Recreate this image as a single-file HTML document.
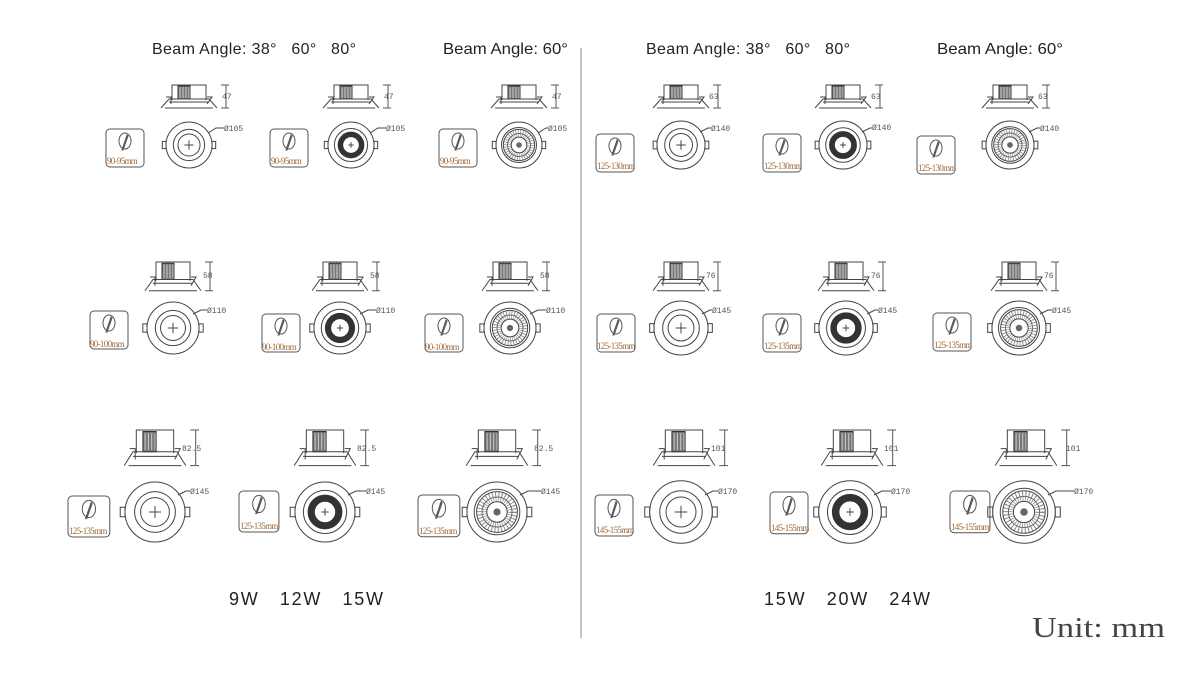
<!DOCTYPE html>
<html><head><meta charset="utf-8"><style>
html,body{margin:0;padding:0;background:#fff}
svg{display:block}
text{white-space:pre}
.t{font-family:"Liberation Sans",sans-serif;font-size:16px;fill:#222}
.d{font-family:"Liberation Mono",monospace;font-size:8px;fill:#555}
.l{font-family:"Liberation Serif",serif;font-size:9px;fill:#a06a3a;letter-spacing:-0.7px}
.n{vector-effect:non-scaling-stroke}
</style></head><body>
<svg width="1179" height="682" viewBox="0 0 1179 682" xmlns="http://www.w3.org/2000/svg" xml:space="preserve">
<defs>
<g id="side" fill="none" stroke="#444">
 <path class="n" d="M13 15 V0 H47 V15"/>
 <rect class="n" x="19" y="1" width="12" height="13" fill="#777" stroke="#333"/>
 <path class="n" d="M21 2 V13 M24 2 V13 M27 2 V13 M30 2 V13" stroke="#ccc"/>
 <path class="n" d="M2 23 L10 14 H50 L58 23"/>
 <path class="n" d="M10 17 H50 M6 23 H54"/>
 <path class="n" d="M7 12 L12 12 L12 19 M48 12 L53 12 L48 19" />
 <path class="n" d="M67 0 V23 M62 0 H70 M62 23 H70" stroke="#555"/>
</g>
<g id="tabs" fill="#fff" stroke="#444">
 <rect class="n" x="-29" y="-4" width="4" height="8"/>
 <rect class="n" x="25" y="-4" width="4" height="8"/>
</g>
<g id="fA" fill="none" stroke="#444">
 <use href="#tabs"/>
 <circle class="n" r="25" fill="#fff"/>
 <circle class="n" r="17"/>
 <circle class="n" r="12"/>
 <path class="n" d="M-5 0 H5 M0 -5 V5"/>
</g>
<g id="fB" fill="none" stroke="#444">
 <use href="#tabs"/>
 <circle class="n" r="25" fill="#fff"/>
 <circle class="n" r="18"/>
 <circle r="11.5" stroke="#333" stroke-width="6"/>
 <path class="n" d="M-3 0 H3 M0 -3 V3"/>
</g>
<g id="fC" fill="none" stroke="#444">
 <use href="#tabs"/>
 <circle class="n" r="25" fill="#fff"/>
 <circle class="n" r="19"/>
 <circle class="n" r="17"/>
 <circle r="12.5" stroke="#888" stroke-width="8" stroke-dasharray="0.7 1.6"/>
 <circle class="n" r="12.5" stroke="#666"/>
 <circle class="n" r="8.5"/>
 <circle r="3" fill="#666" stroke="none"/>
</g>
<g id="box" fill="none" stroke="#555">
 <rect class="n" x="0" y="0" width="38" height="38" rx="4"/>
 <ellipse class="n" cx="19" cy="12" rx="6" ry="8"/>
 <path class="n" d="M16 21 L21 6 L22 7 L17 21 Z" fill="#777"/>
</g>
</defs>

<text class="t" x="152" y="54" textLength="204" lengthAdjust="spacing">Beam Angle: 38°   60°   80°</text>
<text class="t" x="443" y="54" textLength="125" lengthAdjust="spacingAndGlyphs">Beam Angle: 60°</text>
<text class="t" x="646" y="54" textLength="204" lengthAdjust="spacing">Beam Angle: 38°   60°   80°</text>
<text class="t" x="937" y="54" textLength="126" lengthAdjust="spacingAndGlyphs">Beam Angle: 60°</text>
<line x1="581" y1="48" x2="581" y2="638" stroke="#888" stroke-width="1"/>

<text class="t" x="229" y="605" textLength="154" lengthAdjust="spacing" style="font-size:18px">9W   12W   15W</text>
<text class="t" x="764" y="605" textLength="166" lengthAdjust="spacing" style="font-size:18px">15W   20W   24W</text>
<text x="1032" y="637" textLength="133" lengthAdjust="spacingAndGlyphs" style="font-family:'Liberation Serif',serif;font-size:28px;fill:#444">Unit: mm</text>

<!-- ROW 1 LEFT -->
<g transform="translate(159,85)"><use href="#side"/></g><text class="d" x="222" y="99">47</text>
<g transform="translate(321,85)"><use href="#side"/></g><text class="d" x="384" y="99">47</text>
<g transform="translate(489,85)"><use href="#side"/></g><text class="d" x="552" y="99">47</text>
<use href="#fA" transform="translate(189,145) scale(0.92)"/>
<use href="#fB" transform="translate(351,145) scale(0.92)"/>
<use href="#fC" transform="translate(519,145) scale(0.92)"/>
<path d="M208 133 L216 128 H224" fill="none" stroke="#444"/><text class="d" x="224" y="131">Ø105</text>
<path d="M370 133 L378 128 H386" fill="none" stroke="#444"/><text class="d" x="386" y="131">Ø105</text>
<path d="M538 133 L546 128 H548" fill="none" stroke="#444"/><text class="d" x="548" y="131">Ø105</text>
<use href="#box" x="106" y="129"/><text class="l" x="107" y="164">90-95mm</text>
<use href="#box" x="270" y="129"/><text class="l" x="271" y="164">90-95mm</text>
<use href="#box" x="439" y="129"/><text class="l" x="440" y="164">90-95mm</text>

<!-- ROW 1 RIGHT -->
<g transform="translate(651,85)"><use href="#side"/></g><text class="d" x="709" y="99">63</text>
<g transform="translate(813,85)"><use href="#side"/></g><text class="d" x="871" y="99">63</text>
<g transform="translate(980,85)"><use href="#side"/></g><text class="d" x="1038" y="99">63</text>
<use href="#fA" transform="translate(681,145) scale(0.96)"/>
<use href="#fB" transform="translate(843,145) scale(0.96)"/>
<use href="#fC" transform="translate(1010,145) scale(0.96)"/>
<path d="M700 132 L708 128 H711" fill="none" stroke="#444"/><text class="d" x="711" y="131">Ø140</text>
<path d="M862 132 L870 128 H872" fill="none" stroke="#444"/><text class="d" x="872" y="130">Ø140</text>
<path d="M1029 132 L1037 128 H1040" fill="none" stroke="#444"/><text class="d" x="1040" y="131">Ø140</text>
<use href="#box" x="596" y="134"/><text class="l" x="597" y="169">125-130mm</text>
<use href="#box" x="763" y="134"/><text class="l" x="764" y="169">125-130mm</text>
<use href="#box" x="917" y="136"/><text class="l" x="918" y="171">125-130mm</text>

<!-- ROW 2 LEFT -->
<g transform="translate(143,262) scale(1,1.25)"><use href="#side"/></g><text class="d" x="203" y="278">58</text>
<g transform="translate(310,262) scale(1,1.25)"><use href="#side"/></g><text class="d" x="370" y="278">58</text>
<g transform="translate(480,262) scale(1,1.25)"><use href="#side"/></g><text class="d" x="540" y="278">58</text>
<use href="#fA" transform="translate(173,328) scale(1.04)"/>
<use href="#fB" transform="translate(340,328) scale(1.04)"/>
<use href="#fC" transform="translate(510,328) scale(1.04)"/>
<path d="M193 314 L201 310 H207" fill="none" stroke="#444"/><text class="d" x="207" y="313">Ø110</text>
<path d="M360 314 L368 310 H376" fill="none" stroke="#444"/><text class="d" x="376" y="313">Ø110</text>
<path d="M530 314 L538 310 H546" fill="none" stroke="#444"/><text class="d" x="546" y="313">Ø110</text>
<use href="#box" x="90" y="311"/><text class="l" x="90" y="347">90-100mm</text>
<use href="#box" x="262" y="314"/><text class="l" x="262" y="350">90-100mm</text>
<use href="#box" x="425" y="314"/><text class="l" x="425" y="350">90-100mm</text>

<!-- ROW 2 RIGHT -->
<g transform="translate(651,262) scale(1,1.25)"><use href="#side"/></g><text class="d" x="706" y="278">76</text>
<g transform="translate(816,262) scale(1,1.25)"><use href="#side"/></g><text class="d" x="871" y="278">76</text>
<g transform="translate(989,262) scale(1,1.25)"><use href="#side"/></g><text class="d" x="1044" y="278">76</text>
<use href="#fA" transform="translate(681,328) scale(1.08)"/>
<use href="#fB" transform="translate(846,328) scale(1.08)"/>
<use href="#fC" transform="translate(1019,328) scale(1.08)"/>
<path d="M702 314 L710 310 H712" fill="none" stroke="#444"/><text class="d" x="712" y="313">Ø145</text>
<path d="M867 314 L875 310 H878" fill="none" stroke="#444"/><text class="d" x="878" y="313">Ø145</text>
<path d="M1040 314 L1048 310 H1052" fill="none" stroke="#444"/><text class="d" x="1052" y="313">Ø145</text>
<use href="#box" x="597" y="314"/><text class="l" x="597" y="349">125-135mm</text>
<use href="#box" x="763" y="314"/><text class="l" x="764" y="349">125-135mm</text>
<use href="#box" x="933" y="313"/><text class="l" x="934" y="348">125-135mm</text>

<!-- ROW 3 LEFT -->
<g transform="translate(122,430) scale(1.1,1.55)"><use href="#side"/></g><text class="d" x="182" y="451">82.5</text>
<g transform="translate(292,430) scale(1.1,1.55)"><use href="#side"/></g><text class="d" x="357" y="451">82.5</text>
<g transform="translate(464,430) scale(1.1,1.55)"><use href="#side"/></g><text class="d" x="534" y="451">82.5</text>
<use href="#fA" transform="translate(155,512) scale(1.2)"/>
<use href="#fB" transform="translate(325,512) scale(1.2)"/>
<use href="#fC" transform="translate(497,512) scale(1.2)"/>
<path d="M178 495 L186 491 H190" fill="none" stroke="#444"/><text class="d" x="190" y="494">Ø145</text>
<path d="M348 495 L356 491 H366" fill="none" stroke="#444"/><text class="d" x="366" y="494">Ø145</text>
<path d="M520 495 L528 491 H541" fill="none" stroke="#444"/><text class="d" x="541" y="494">Ø145</text>
<use href="#box" transform="translate(68,496) scale(1.1,1.08)"/><text class="l" x="69" y="534">125-135mm</text>
<use href="#box" transform="translate(239,491) scale(1.05,1.08)"/><text class="l" x="240" y="529">125-135mm</text>
<use href="#box" transform="translate(418,495) scale(1.1,1.1)"/><text class="l" x="419" y="534">125-135mm</text>

<!-- ROW 3 RIGHT -->
<g transform="translate(651,430) scale(1.1,1.55)"><use href="#side"/></g><text class="d" x="711" y="451">101</text>
<g transform="translate(819,430) scale(1.1,1.55)"><use href="#side"/></g><text class="d" x="884" y="451">101</text>
<g transform="translate(993,430) scale(1.1,1.55)"><use href="#side"/></g><text class="d" x="1066" y="451">101</text>
<use href="#fA" transform="translate(681,512) scale(1.25)"/>
<use href="#fB" transform="translate(850,512) scale(1.25)"/>
<use href="#fC" transform="translate(1024,512) scale(1.25)"/>
<path d="M705 495 L713 491 H718" fill="none" stroke="#444"/><text class="d" x="718" y="494">Ø170</text>
<path d="M874 495 L882 491 H891" fill="none" stroke="#444"/><text class="d" x="891" y="494">Ø170</text>
<path d="M1048 495 L1056 491 H1074" fill="none" stroke="#444"/><text class="d" x="1074" y="494">Ø170</text>
<use href="#box" transform="translate(595,495) scale(1,1.08)"/><text class="l" x="596" y="533">145-155mm</text>
<use href="#box" transform="translate(770,492) scale(1,1.1)"/><text class="l" x="771" y="531">145-155mm</text>
<use href="#box" transform="translate(950,491) scale(1.05,1.1)"/><text class="l" x="951" y="530">145-155mm</text>
</svg>
</body></html>
